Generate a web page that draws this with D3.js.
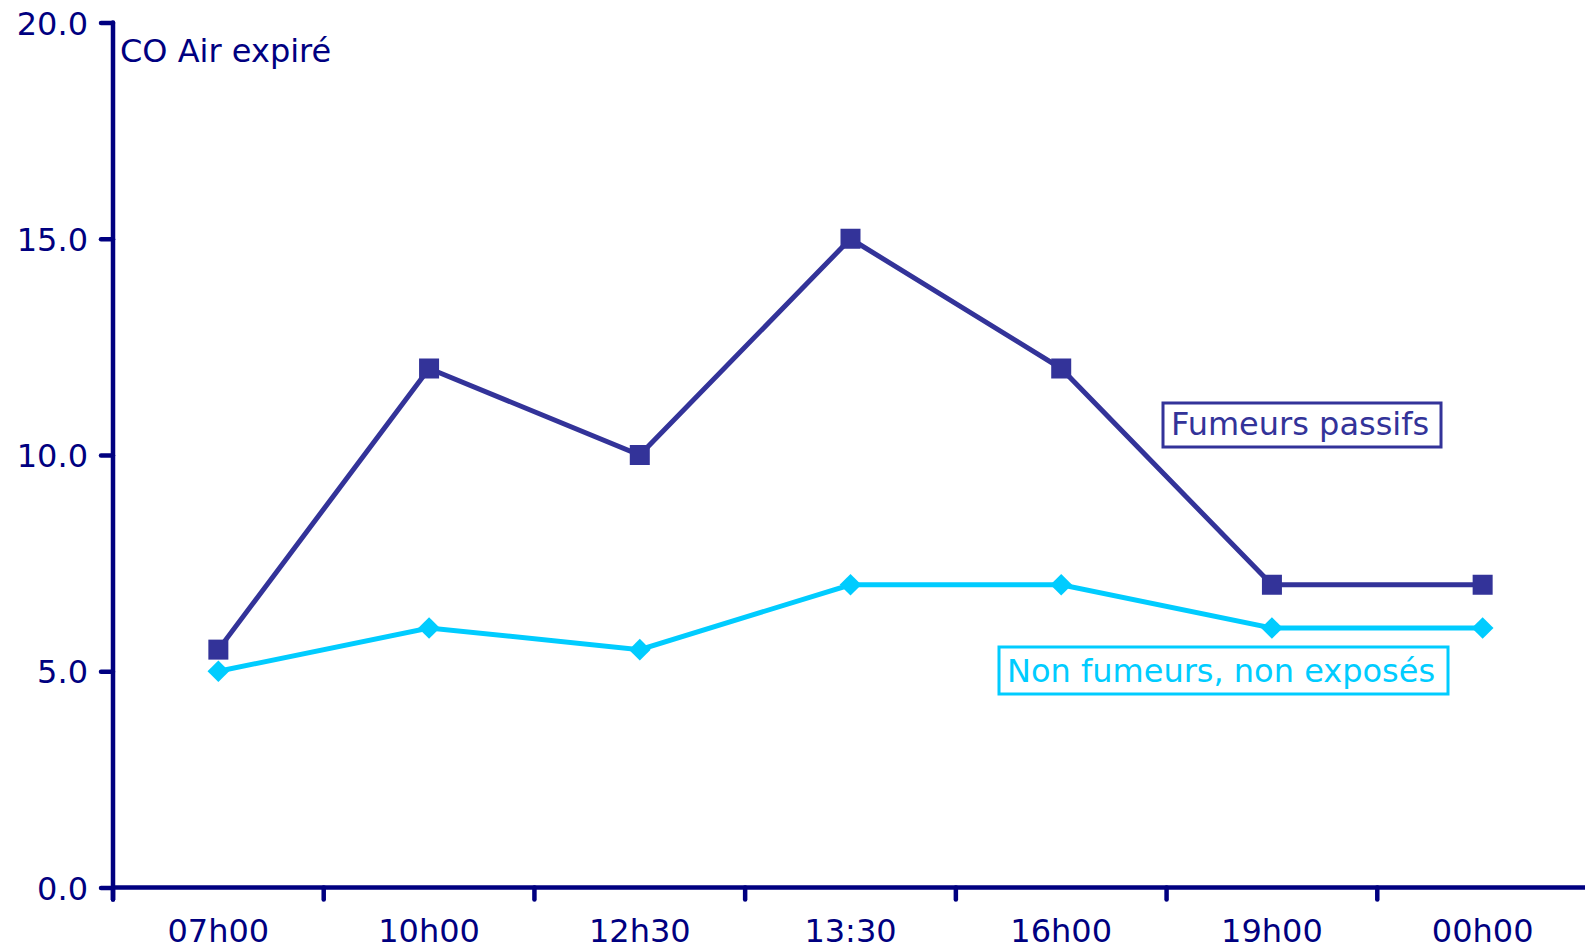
<!DOCTYPE html>
<html>
<head>
<meta charset="utf-8">
<script src="https://cdn.jsdelivr.net/npm/d3@7"></script>
<style>
  body { margin: 0; background: #fff; overflow: hidden; }
  text { font-family: Verdana, "DejaVu Sans", sans-serif; }
</style>
</head>
<body>
<svg id="chart" width="1585" height="951"></svg>
<script>
// data
const hours = ["07h00", "10h00", "12h30", "13:30", "16h00", "19h00", "00h00"];
const passifs = [5.5, 12, 10, 15, 12, 7, 7];
const nonFumeurs = [5, 6, 5.5, 7, 7, 6, 6];
const yTicks = [0, 5, 10, 15, 20];

const navy = "#000080";
const dark = "#333399";
const light = "#00CCFF";

const svg = d3.select("#chart");

const x = d3.scaleBand().domain(hours).range([113, 1588]).padding(0);
const y = d3.scaleLinear().domain([0, 20]).range([887.5, 22.5]);
const cx = d => x(d) + x.bandwidth() / 2;

// y axis
const yAxis = svg.append("g")
    .attr("transform", "translate(113,0)")
    .call(d3.axisLeft(y).tickValues(yTicks).tickFormat(d3.format(".1f"))
        .tickSizeInner(12).tickSizeOuter(0).tickPadding(13));
yAxis.select(".domain").remove();
yAxis.selectAll("line").attr("stroke", navy).attr("stroke-width", 4.5).attr("stroke-linecap", "round");
yAxis.selectAll("text").attr("fill", navy).style("font-size", "32px").attr("dy", "0.36em");

svg.append("line")
    .attr("x1", 113).attr("x2", 113)
    .attr("y1", y(20)).attr("y2", y(0) + 12)
    .attr("stroke", navy).attr("stroke-width", 4.5).attr("stroke-linecap", "round");

// x axis
svg.append("line")
    .attr("x1", 113).attr("x2", 1590)
    .attr("y1", y(0)).attr("y2", y(0))
    .attr("stroke", navy).attr("stroke-width", 4.5);

svg.append("g").selectAll("line")
    .data(hours)
    .join("line")
    .attr("x1", d => x(d)).attr("x2", d => x(d))
    .attr("y1", y(0)).attr("y2", y(0) + 12)
    .attr("stroke", navy).attr("stroke-width", 4.5).attr("stroke-linecap", "round");

svg.append("g").selectAll("text")
    .data(hours)
    .join("text")
    .attr("x", d => cx(d))
    .attr("y", 942)
    .attr("text-anchor", "middle")
    .attr("fill", navy)
    .style("font-size", "32px")
    .text(d => d);

// axis title
svg.append("text")
    .attr("x", 120).attr("y", 62)
    .attr("fill", navy)
    .style("font-size", "32px")
    .text("CO Air expiré");

const line = d3.line().x((d, i) => cx(hours[i])).y(d => y(d));

// non fumeurs
svg.append("path")
    .datum(nonFumeurs)
    .attr("d", line)
    .attr("fill", "none").attr("stroke", light).attr("stroke-width", 5);

svg.append("g").selectAll("path")
    .data(nonFumeurs)
    .join("path")
    .attr("d", d3.symbol(d3.symbolDiamond2, 300))
    .attr("transform", (d, i) => "translate(" + cx(hours[i]) + "," + y(d) + ")")
    .attr("fill", light);

// fumeurs passifs
svg.append("path")
    .datum(passifs)
    .attr("d", line)
    .attr("fill", "none").attr("stroke", dark).attr("stroke-width", 5);

svg.append("g").selectAll("rect")
    .data(passifs)
    .join("rect")
    .attr("x", (d, i) => cx(hours[i]) - 10)
    .attr("y", d => y(d) - 10)
    .attr("width", 20).attr("height", 20)
    .attr("fill", dark);

// series labels in boxes
function boxLabel(txt, x0, y0, w, h, color) {
    svg.append("rect")
        .attr("x", x0).attr("y", y0).attr("width", w).attr("height", h)
        .attr("fill", "#fff").attr("stroke", color).attr("stroke-width", 3);
    svg.append("text")
        .attr("x", x0 + 8).attr("y", y0 + h - 12)
        .attr("fill", color)
        .style("font-size", "32px")
        .text(txt);
}
boxLabel("Fumeurs passifs", 1163, 403, 278, 44, dark);
boxLabel("Non fumeurs, non exposés", 999, 647, 449, 47, light);
</script>
</body>
</html>
